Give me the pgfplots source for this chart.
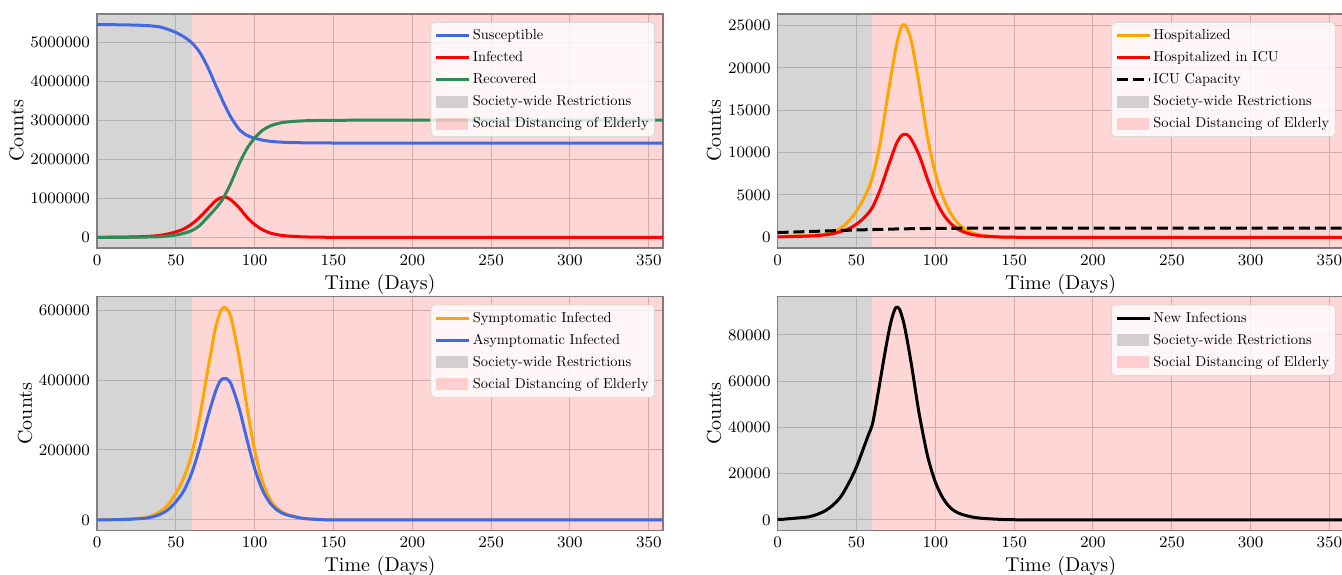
\documentclass[border=0pt]{standalone}
\usepackage{graphicx}
\usepackage{pgfplots}
\pgfplotsset{compat=1.18}
\definecolor{royal}{RGB}{65,105,225}
\definecolor{sgreen}{RGB}{46,139,87}
\definecolor{orng}{RGB}{255,165,0}
\newcommand{\lgt}[1]{\scalebox{0.72}{#1}}

\pgfplotsset{
  base/.style={
    scale only axis, width=283pt, height=117pt,
    anchor=south west,
    xmin=0, xmax=359,
    xtick={0,50,100,150,200,250,300,350},
    major tick length=0pt,
    grid=major,
    grid style={line width=0.5pt, draw=black!20},
    axis line style={line width=0.6pt, draw=black!50},
    tick label style={font=\fontsize{8}{9.6}\selectfont},
    label style={font=\fontsize{10}{12}\selectfont},
    xlabel={Time (Days)}, ylabel={Counts},
    xlabel shift=-2.5pt, ylabel shift=-3.5pt,
    scaled y ticks=false,
    yticklabel style={/pgf/number format/fixed, /pgf/number format/1000 sep={}},
    legend cell align=left,
    legend style={at={(1,1)}, anchor=north east, xshift=-4pt, yshift=-4pt,
      font=\fontsize{10}{12}\selectfont, fill=white, fill opacity=0.8,
      text opacity=1, draw=black!15, rounded corners=2pt, inner sep=2pt,
      row sep=1.9pt, nodes={inner sep=1pt, text height=5.5pt, text depth=1.6pt}},
    legend image code/.code={\draw[#1, sharp corners] (0pt,0pt) -- (16.5pt,0pt);},
    every axis plot/.append style={line width=1.5pt},
  },
  graylegend/.style={legend image code/.code={\path[draw=none, fill=black!50, fill opacity=0.33, sharp corners] (0pt,-3pt) rectangle (16pt,3pt);}},
  pinklegend/.style={legend image code/.code={\path[draw=none, fill=red, fill opacity=0.16, sharp corners] (0pt,-3pt) rectangle (16pt,3pt);}},
}

\begin{document}
\begin{tikzpicture}
\path[use as bounding box] (0,0) rectangle (671pt,-287pt);

% ---------------- top left ----------------
\begin{axis}[base, at={(48.5pt,-124pt)}, ymin=-273000, ymax=5733000,
  ytick={0,1000000,2000000,3000000,4000000,5000000}]
\addplot[draw=none, fill=black!50, fill opacity=0.33, forget plot] coordinates {(0,-273000) (0,5733000) (60,5733000) (60,-273000)};
\addplot[draw=none, fill=red, fill opacity=0.16, forget plot] coordinates {(60,-273000) (60,5733000) (359,5733000) (359,-273000)};
\addplot[royal, smooth] table {
x y
0 5460000
10 5458000
20 5452000
30 5440000
35 5425000
40 5400000
45 5340000
50 5260000
55 5150000
60 5000000
65 4760000
70 4390000
75 3930000
78 3660000
80 3480000
82 3310000
85 3080000
90 2780000
95 2620000
100 2545000
105 2495000
110 2465000
115 2448000
120 2438000
130 2428000
140 2424000
150 2422000
200 2420000
250 2420000
300 2420000
359 2420000
};
\addlegendentry{\lgt{Susceptible}}
\addplot[red, smooth] table {
x y
0 2000
10 4000
20 9000
30 20000
35 32000
40 50000
45 88000
50 140000
55 215000
60 340000
65 510000
70 720000
75 930000
78 1010000
80 1030000
82 1030000
85 960000
90 770000
95 520000
100 330000
105 195000
110 110000
115 65000
120 38000
130 14000
140 5000
150 2000
170 500
200 0
359 0
};
\addlegendentry{\lgt{Infected}}
\addplot[sgreen, smooth] table {
x y
0 0
10 1000
20 3000
30 8000
35 12000
40 18000
45 35000
50 60000
55 105000
60 170000
65 300000
70 510000
75 730000
78 880000
80 1000000
82 1150000
85 1400000
90 1870000
95 2270000
100 2550000
105 2750000
110 2860000
115 2925000
120 2960000
130 2990000
140 3000000
150 3005000
200 3008000
359 3008000
};
\addlegendentry{\lgt{Recovered}}
\addlegendimage{graylegend}
\addlegendentry{\lgt{Society-wide Restrictions}}
\addlegendimage{pinklegend}
\addlegendentry{\lgt{Social Distancing of Elderly}}
\end{axis}

% ---------------- top right ----------------
\begin{axis}[base, at={(388.8pt,-124pt)}, ymin=-1255, ymax=26355,
  ytick={0,5000,10000,15000,20000,25000}]
\addplot[draw=none, fill=black!50, fill opacity=0.33, forget plot] coordinates {(0,-1255) (0,26355) (60,26355) (60,-1255)};
\addplot[draw=none, fill=red, fill opacity=0.16, forget plot] coordinates {(60,-1255) (60,26355) (359,26355) (359,-1255)};
\addplot[orng, smooth] table {
x y
0 100
10 150
20 220
25 290
30 380
35 600
40 1100
45 1900
50 3100
55 4700
60 7000
65 11100
70 16900
75 22300
78 24600
80 25100
82 24700
85 23000
90 17800
95 11900
100 7600
105 4700
110 2750
115 1550
120 850
125 450
130 230
140 70
150 20
200 0
359 0
};
\addlegendentry{\lgt{Hospitalized}}
\addplot[red, smooth] table {
x y
0 50
10 100
20 160
25 210
30 290
35 430
40 680
45 1000
50 1550
55 2350
60 3500
65 5600
70 8300
75 10900
78 11900
80 12150
82 12150
85 11500
90 9600
95 6900
100 4500
105 2750
110 1600
115 900
120 500
125 280
130 150
140 50
150 15
200 0
359 0
};
\addlegendentry{\lgt{Hospitalized in ICU}}
\addplot[black, dash pattern=on 5.5pt off 2.4pt, smooth] table {
x y
0 570
25 720
50 870
75 990
100 1060
125 1080
200 1080
359 1080
};
\addlegendentry{\lgt{ICU Capacity}}
\addlegendimage{graylegend}
\addlegendentry{\lgt{Society-wide Restrictions}}
\addlegendimage{pinklegend}
\addlegendentry{\lgt{Social Distancing of Elderly}}
\end{axis}

% ---------------- bottom left ----------------
\begin{axis}[base, at={(48.5pt,-265.3pt)}, ymin=-30400, ymax=638400,
  ytick={0,200000,400000,600000}]
\addplot[draw=none, fill=black!50, fill opacity=0.33, forget plot] coordinates {(0,-30400) (0,638400) (60,638400) (60,-30400)};
\addplot[draw=none, fill=red, fill opacity=0.16, forget plot] coordinates {(60,-30400) (60,638400) (359,638400) (359,-30400)};
\addplot[orng, smooth] table {
x y
0 500
10 1000
20 2500
30 6600
35 12000
40 24000
45 43000
50 76000
55 120000
60 187000
65 290000
70 422000
75 545000
78 592000
80 606000
82 605000
85 578000
90 469000
95 327000
100 199000
105 109000
110 57000
115 31000
120 17000
130 5000
140 1500
150 400
200 0
359 0
};
\addlegendentry{\lgt{Symptomatic Infected}}
\addplot[royal, smooth] table {
x y
0 300
10 700
20 1800
30 4700
35 8500
40 16000
45 29000
50 52000
55 83000
60 133000
65 205000
70 290000
75 365000
78 396000
80 404000
82 404000
85 389000
90 322000
95 232000
100 147000
105 85000
110 47000
115 26000
120 15000
130 5000
140 1500
150 400
200 0
359 0
};
\addlegendentry{\lgt{Asymptomatic Infected}}
\addlegendimage{graylegend}
\addlegendentry{\lgt{Society-wide Restrictions}}
\addlegendimage{pinklegend}
\addlegendentry{\lgt{Social Distancing of Elderly}}
\end{axis}

% ---------------- bottom right ----------------
\begin{axis}[base, at={(388.8pt,-265.3pt)}, ymin=-4600, ymax=96600,
  ytick={0,20000,40000,60000,80000}]
\addplot[draw=none, fill=black!50, fill opacity=0.33, forget plot] coordinates {(0,-4600) (0,96600) (60,96600) (60,-4600)};
\addplot[draw=none, fill=red, fill opacity=0.16, forget plot] coordinates {(60,-4600) (60,96600) (359,96600) (359,-4600)};
\addplot[black, smooth] table {
x y
0 300
2 200
5 400
10 700
15 1000
20 1400
25 2400
30 3900
35 6400
40 10000
45 15800
50 22900
55 32000
58 37500
60 41000
62 48000
65 60000
68 72000
70 79500
72 86000
74 90500
75 91800
76 92000
77 91500
78 90000
80 85300
82 78500
85 66700
88 53500
90 45200
95 28000
100 16500
105 9300
110 5000
115 2900
120 1800
125 1100
130 700
140 300
150 100
200 20
359 0
};
\addlegendentry{\lgt{New Infections}}
\addlegendimage{graylegend}
\addlegendentry{\lgt{Society-wide Restrictions}}
\addlegendimage{pinklegend}
\addlegendentry{\lgt{Social Distancing of Elderly}}
\end{axis}
\end{tikzpicture}
\end{document}
